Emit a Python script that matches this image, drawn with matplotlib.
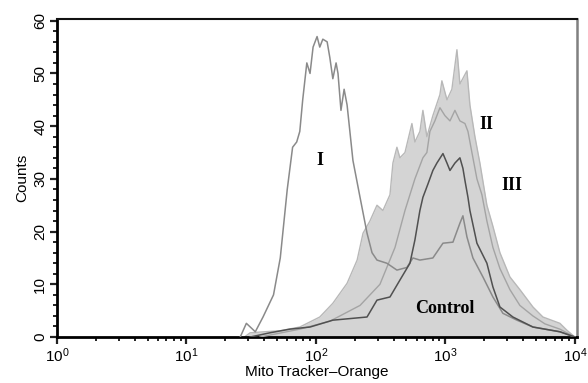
import matplotlib
matplotlib.use("Agg")
import matplotlib.pyplot as plt
from matplotlib.ticker import LogLocator, MultipleLocator, NullFormatter

plt.rcParams['font.family'] = ['Liberation Sans', 'DejaVu Sans']
plt.rcParams['mathtext.fontset'] = 'custom'
plt.rcParams['mathtext.rm'] = 'Liberation Sans'
plt.rcParams['mathtext.it'] = 'Liberation Sans:italic'
plt.rcParams['mathtext.bf'] = 'Liberation Sans:bold'
plt.rcParams['mathtext.default'] = 'regular'

# ---- data (fluorescence intensity vs counts) ----
control_x = [28, 31, 40, 53, 75, 107, 135, 174, 208, 231, 261, 296, 329, 373, 393,
             422, 445, 487, 551, 581, 635, 670, 719, 800, 907, 939, 1028, 1122, 1227, 1294,
             1466, 1546, 1690, 1846, 2091, 2327, 2636, 3148, 3758, 4742, 5663, 7660, 8670, 10000]
control_y = [0, 0.8, 1, 1.2, 1.9, 3.8, 6.4, 10.2, 14.6, 19.7, 22, 25, 24, 27, 33,
             36, 34, 35, 40.5, 37, 39, 43, 38, 42, 46, 48.6, 45, 47, 54.5, 48,
             50.5, 44, 38, 33, 25, 21, 16, 11.4, 9, 5.7, 3.8, 2.6, 1.3, 0]

i_x = [26, 29, 34, 39, 47, 53, 60, 66, 71, 75, 79, 85, 90, 95, 102, 107, 113, 122, 128, 135,
       143, 148, 156, 165, 174, 193, 219, 248, 271, 296, 353, 422, 504, 561, 635, 800, 957,
       1143, 1294, 1365, 1466, 1631, 1948, 2327, 2780, 3565, 4742, 7660, 10000]
i_y = [0, 2.6, 1, 3.8, 8, 15, 28, 36, 37, 39, 45, 52, 50, 55, 57, 55, 56.5, 56, 53, 49,
       52, 50, 43, 47, 44, 33.5, 26.5, 19.7, 16, 14.6, 14, 12.7, 13.2, 15, 14.6, 15, 17.8,
       18, 21.6, 23, 19, 15, 11.4, 7.6, 4.5, 3.2, 1.9, 1, 0]

ii_x = [37, 75, 128, 219, 312, 408, 487, 581, 670, 719, 759, 829, 907, 991, 1084, 1184,
        1294, 1415, 1493, 1602, 1751, 1913, 2091, 2327, 2636, 3148, 3758, 4742, 5866, 7660, 10000]
ii_y = [0, 1.5, 3, 6, 10, 17, 24, 30, 34, 35, 39, 41, 43.5, 42, 41, 43,
        41, 40.5, 39, 35, 30, 27, 22, 17, 13, 9, 6, 4, 2.5, 1.5, 0]

iii_x = [31, 44, 63, 90, 135, 183, 248, 296, 373, 445, 532, 581, 635, 670, 732, 800, 859,
         957, 1028, 1084, 1184, 1294, 1365, 1415, 1493, 1546, 1751, 2091, 2327, 2636, 3320,
         4742, 7660, 10000]
iii_y = [0, 0.8, 1.5, 1.9, 3.2, 3.5, 3.8, 7, 7.6, 10.8, 14, 18.4, 24, 26.5, 29, 31.6, 33,
         34.8, 33, 31.6, 33, 34, 32, 29.7, 26.5, 24, 17.8, 14, 9.5, 5.7, 3.8,
         1.9, 1, 0]

labels = ["I", "II", "III", "Control"]
label_x = [107, 2090, 3260, 991]
label_y = [33.5, 40.3, 28.8, 5.5]

# ---- figure ----
fig = plt.figure(figsize=(5.88, 3.83), dpi=100)
ax = fig.add_axes([0.097, 0.12, 0.884, 0.830])

ax.fill_between(control_x, control_y, 0, color='#d4d4d4', linewidth=0, zorder=1)
ax.plot(control_x, control_y, color='#b8b8b8', lw=1.0, zorder=2)
ax.plot(ii_x, ii_y, color='#a4a4a4', lw=1.0, zorder=3)
ax.plot(i_x, i_y, color='#8a8a8a', lw=1.1, zorder=4)
ax.plot(iii_x, iii_y, color='#505050', lw=1.1, zorder=5)

for t, x, y in zip(labels, label_x, label_y):
    ax.text(x, y, t, family='Liberation Serif', fontweight='bold', fontsize=13,
            ha='center', va='center', zorder=6)

ax.set_xscale('log')
ax.set_xlim(1, 10**4.015)
ax.set_ylim(0, 60.3)

ax.xaxis.set_major_locator(LogLocator(base=10, numticks=10))
ax.xaxis.set_minor_locator(LogLocator(base=10, subs=range(2, 10), numticks=20))
ax.xaxis.set_minor_formatter(NullFormatter())
ax.yaxis.set_major_locator(MultipleLocator(10))
ax.yaxis.set_minor_locator(MultipleLocator(2))

ax.tick_params(axis='both', which='major', direction='out', length=5, width=1.6,
               labelsize=11, color='#222222')
ax.tick_params(axis='both', which='minor', direction='out', length=3, width=1.4,
               color='#222222')
ax.tick_params(axis='x', pad=2)
ax.tick_params(axis='y', pad=2)
for lab in ax.get_yticklabels():
    lab.set_rotation(90)
    lab.set_va('center')

ax.spines['left'].set_linewidth(2.0)
ax.spines['bottom'].set_linewidth(2.0)
ax.spines['top'].set_linewidth(1.5)
ax.spines['right'].set_linewidth(1.8)
ax.spines['right'].set_color('#808080')
ax.spines['top'].set_color('#111111')

ax.set_xlabel('Mito Tracker\u2013Orange', fontsize=11, labelpad=0)
ax.set_ylabel('Counts', fontsize=11, labelpad=3)

fig.savefig('out.png', dpi=100)
